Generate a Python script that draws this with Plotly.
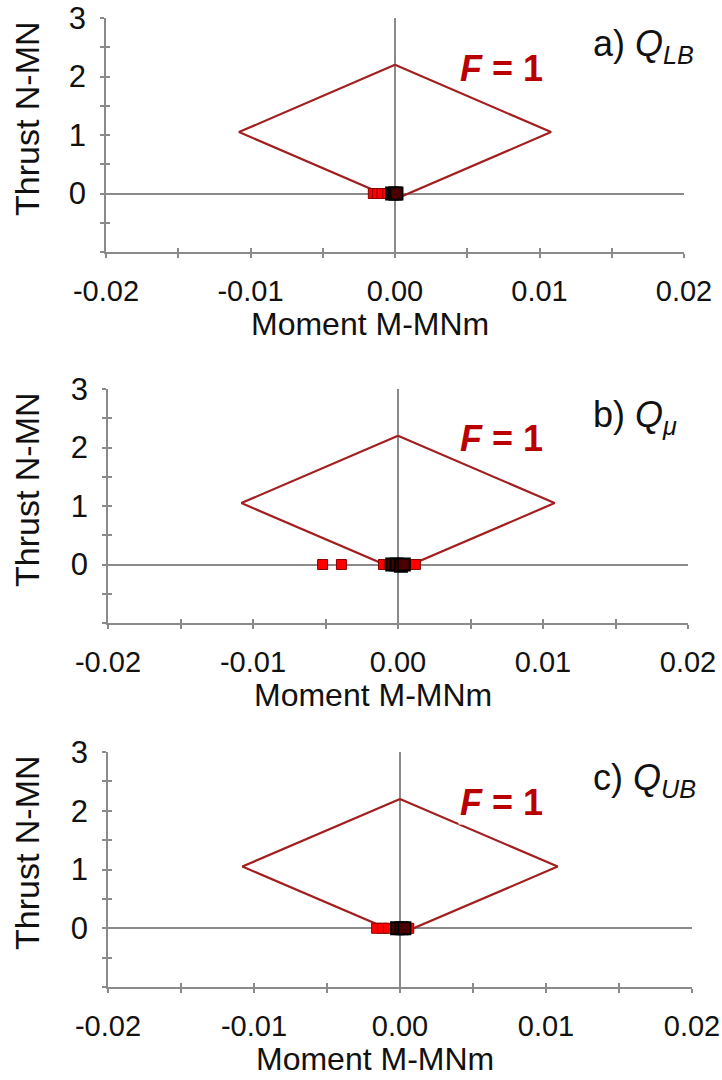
import plotly.graph_objects as go

# ---------------- data ----------------
diamond_M = [0.0, 0.0108, 0.0, -0.0108, 0.0]
diamond_N = [2.2, 1.05, -0.1, 1.05, 2.2]

a_red_M = [-0.0015, -0.0012, -0.0009, -0.0005]
a_red_N = [0.0, 0.0, 0.0, 0.0]
a_blk_M = [-0.0002, 0.0, 0.0001]
a_blk_N = [0.0, 0.0, 0.0]

b_red_M = [-0.0052, -0.0039, -0.0010, -0.0006, 0.0004, 0.0008, 0.0012]
b_red_N = [0.0, 0.0, 0.0, 0.0, 0.0, 0.0, 0.0]
b_blk_M = [-0.0004, -0.0001, 0.0002, 0.0004]
b_blk_N = [0.0, 0.0, -0.02, 0.0]

c_red_M = [-0.0016, -0.0012, -0.0008, 0.0002, 0.0006]
c_red_N = [0.0, 0.0, 0.0, 0.0, 0.0]
c_blk_M = [-0.0002, 0.0001, 0.0003]
c_blk_N = [0.0, 0.0, 0.0]

panel_labels = ["a) <i>Q</i><sub><i>LB</i></sub>",
                "b) <i>Q</i><sub><i>\u03bc</i></sub>",
                "c) <i>Q</i><sub><i>UB</i></sub>"]
f_label = "<b><i>F</i> = 1</b>"
x_title = "Moment M-MNm"
y_title = "Thrust N-MN"

x_major = [-0.02, -0.01, 0.0, 0.01, 0.02]
x_major_text = ["-0.02", "-0.01", "0.00", "0.01", "0.02"]
x_minor = [-0.015, -0.005, 0.005, 0.015]
x_all = [-0.02, -0.015, -0.01, -0.005, 0.0, 0.005, 0.01, 0.015, 0.02]
y_major = [0, 1, 2, 3]
y_minor = [-1, -0.5, 0.5, 1.5, 2.5]
y_all = [-1, -0.5, 0, 0.5, 1, 1.5, 2, 2.5, 3]

# ---------------- layout geometry (pixels) ----------------
W, H = 722, 1080
panels = [
    dict(x0=106, x1=684, ytop=18, ybot=252, red=(a_red_M, a_red_N), blk=(a_blk_M, a_blk_N)),
    dict(x0=108, x1=688, ytop=389, ybot=623, red=(b_red_M, b_red_N), blk=(b_blk_M, b_blk_N)),
    dict(x0=108, x1=692, ytop=752, ybot=987, red=(c_red_M, c_red_N), blk=(c_blk_M, c_blk_N)),
]

FONT = "Liberation Sans, Arial, sans-serif"
AXIS_COL = "#8a8a8a"
DIAMOND_COL = "#a31f1f"
F_COL = "#b80000"
TXT = "#111111"

fig = go.Figure()
layout = dict(template="none", width=W, height=H, margin=dict(l=0, r=0, t=0, b=0, autoexpand=False),
              paper_bgcolor="white", plot_bgcolor="white", showlegend=False,
              font=dict(family=FONT, color=TXT))
annotations = []

def px(x):
    return x / W

def py(y):
    return 1 - y / H

for i, p in enumerate(panels):
    n = i + 1
    o = n + 3
    xa, ya = ("x" if n == 1 else f"x{n}"), ("y" if n == 1 else f"y{n}")
    xo, yo = f"x{o}", f"y{o}"
    xdom = [px(p["x0"]), px(p["x1"])]
    ydom = [py(p["ybot"]), py(p["ytop"])]

    # diamond
    fig.add_trace(go.Scatter(x=diamond_M, y=diamond_N, mode="lines",
                             line=dict(color=DIAMOND_COL, width=2.2),
                             xaxis=xa, yaxis=ya, hoverinfo="skip"))
    # red squares
    fig.add_trace(go.Scatter(x=p["red"][0], y=p["red"][1], mode="markers",
                             marker=dict(symbol="square", size=10, color="#ff0000",
                                         line=dict(color="#8b0000", width=1)),
                             xaxis=xa, yaxis=ya))
    # black markers
    fig.add_trace(go.Scatter(x=p["blk"][0], y=p["blk"][1], mode="markers",
                             marker=dict(symbol="square", size=12, color="#4a0000",
                                         line=dict(color="black", width=2)),
                             xaxis=xa, yaxis=ya))
    # invisible trace for overlay tick axes
    fig.add_trace(go.Scatter(x=[0], y=[0], mode="markers", marker=dict(opacity=0),
                             xaxis=xo, yaxis=yo, hoverinfo="skip"))

    layout[f"xaxis{'' if n == 1 else n}"] = dict(
        domain=xdom, anchor=ya, range=[-0.02, 0.02], showgrid=False, automargin=False,
        showline=True, linecolor=AXIS_COL, linewidth=1.5,
        zeroline=True, zerolinecolor=AXIS_COL, zerolinewidth=1.5,
        tickmode="array", tickvals=x_major, ticktext=x_major_text,
        ticks="outside", ticklen=4, tickwidth=1.5, tickcolor=AXIS_COL,
        minor=dict(tickvals=x_minor, ticks="outside", ticklen=4, tickwidth=1.5, tickcolor=AXIS_COL),
        tickfont=dict(size=29, family=FONT, color=TXT), ticklabelstandoff=8,
        ticklabeloverflow="allow", fixedrange=True)
    layout[f"yaxis{'' if n == 1 else n}"] = dict(
        domain=ydom, anchor=xa, range=[-1, 3], showgrid=False, automargin=False,
        showline=True, linecolor=AXIS_COL, linewidth=1.5,
        zeroline=True, zerolinecolor=AXIS_COL, zerolinewidth=1.5,
        tickmode="array", tickvals=y_major, ticktext=[str(v) for v in y_major],
        ticks="outside", ticklen=4, tickwidth=1.5, tickcolor=AXIS_COL,
        minor=dict(tickvals=y_minor, ticks="outside", ticklen=4, tickwidth=1.5, tickcolor=AXIS_COL),
        tickfont=dict(size=31, family=FONT, color=TXT), ticklabelstandoff=8,
        fixedrange=True)
    layout[f"xaxis{o}"] = dict(
        overlaying=xa, anchor=yo, range=[-0.02, 0.02], showgrid=False, zeroline=False,
        automargin=False, showline=False, showticklabels=False, tickmode="array", tickvals=x_all,
        ticks="inside", ticklen=4, tickwidth=1.5, tickcolor=AXIS_COL, fixedrange=True)
    layout[f"yaxis{o}"] = dict(
        overlaying=ya, anchor=xo, range=[-1, 3], showgrid=False, zeroline=False,
        automargin=False, showline=False, showticklabels=False, tickmode="array", tickvals=y_all,
        ticks="inside", ticklen=4, tickwidth=1.5, tickcolor=AXIS_COL, fixedrange=True)

    zero_px = (p["x0"] + p["x1"]) / 2
    # axis titles
    annotations.append(dict(text=x_title, xref="paper", yref="paper",
                            x=px(zero_px - 25), y=py(p["ybot"] + 72),
                            xanchor="center", yanchor="middle", showarrow=False,
                            font=dict(size=32, family=FONT, color=TXT)))
    annotations.append(dict(text=y_title, xref="paper", yref="paper",
                            x=px(27), y=py(p["ytop"] + 101), textangle=-90,
                            xanchor="center", yanchor="middle", showarrow=False,
                            font=dict(size=34, family=FONT, color=TXT)))
    # panel label
    annotations.append(dict(text=panel_labels[i], xref="paper", yref="paper",
                            x=px(591), y=py(p["ytop"] + 28),
                            xanchor="left", yanchor="middle", showarrow=False,
                            font=dict(size=36, family=FONT, color=TXT)))
    # F = 1
    annotations.append(dict(text=f_label, xref="paper", yref="paper",
                            x=px(501), y=py(p["ytop"] + 50),
                            xanchor="center", yanchor="middle", showarrow=False,
                            bgcolor="white" if n == 3 else "rgba(0,0,0,0)",
                            font=dict(size=36, family=FONT, color=F_COL)))

layout["annotations"] = annotations
fig.update_layout(**layout)
fig.write_html("out.html")
